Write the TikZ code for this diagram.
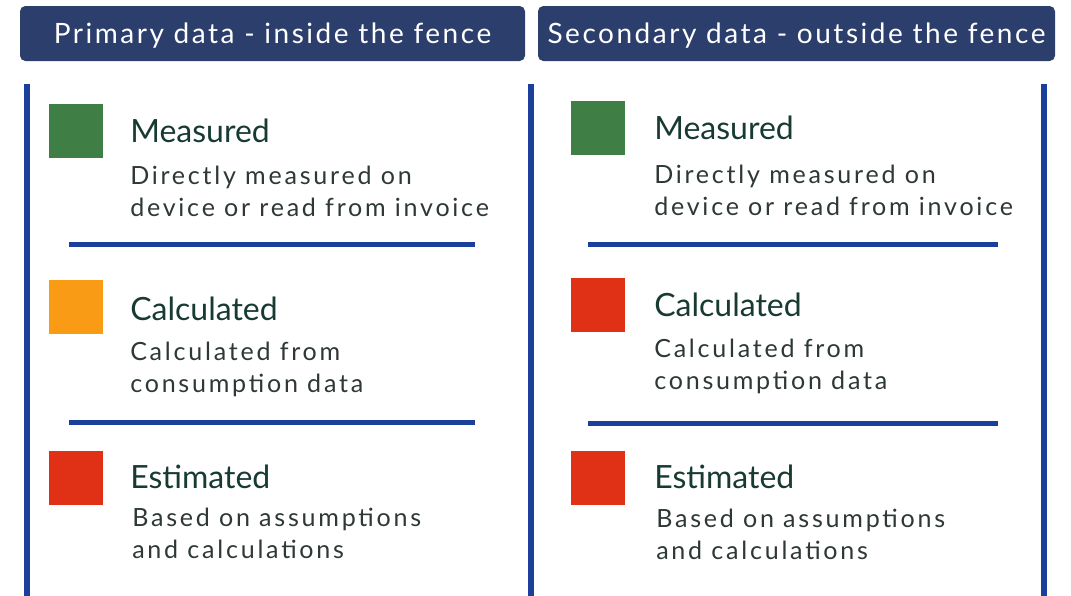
\documentclass[tikz,border=0pt]{standalone}
\usepackage{fontspec}
\setmainfont{Lato}
\newfontfamily\headfont[LetterSpace=9]{Lato}
\newfontfamily\descfont[LetterSpace=11]{Lato}
\usepackage{xcolor}
\usetikzlibrary{positioning}
\definecolor{navy}{HTML}{2C3E6C}
\definecolor{fenceblue}{HTML}{1A409C}
\definecolor{measgreen}{HTML}{3F7E45}
\definecolor{calcorange}{HTML}{F99B15}
\definecolor{estred}{HTML}{E03016}
\definecolor{inkgreen}{HTML}{173A32}
\definecolor{inkgrey}{HTML}{2E3835}

\begin{document}
\begin{tikzpicture}[
    x=0.75pt, y=-0.75pt,
    header/.style={rectangle, rounded corners=4pt, fill=navy, text=white, minimum height=41.25pt, inner sep=0pt, text height=15pt, text depth=0pt, font=\headfont\fontsize{21}{25}\selectfont},
    swatch/.style={rectangle, minimum size=40.5pt, inner sep=0pt},
    title/.style={anchor=base west, inner sep=0pt, text=inkgreen, font=\fontsize{24}{28}\selectfont},
    desc/.style={anchor=base west, inner sep=0pt, text=inkgrey, align=left, font=\descfont\fontsize{18.8}{23.6}\selectfont},
    fence/.style={draw=fenceblue, line width=4.5pt},
    sep/.style={draw=fenceblue, line width=3.75pt}
]
\useasboundingbox (0,0) rectangle (1071,596);

% Headers
\node[header, minimum width=378.75pt] (primary) at (272.5,33.5) {Primary data - inside the fence};
\node[header, minimum width=387.75pt] (secondary) at (796.5,33.5) {Secondary data - outside the fence};

% Fences
\foreach \x in {27,531,1044}
    \draw[fence] (\x,84) -- (\x,596);

% Left: primary data
\node[swatch, fill=measgreen] (pmeas) at (76,130.5) {};
\node[title] (pmeastitle) at (130,142) {Measured};
\node[desc] (pmeasdesc) at (130,216) {Directly measured on\\device or read from invoice};
\draw[sep] (69,244) -- (475,244);

\node[swatch, fill=calcorange] (pcalc) at (76,307) {};
\node[title] (pcalctitle) at (130,320) {Calculated};
\node[desc] (pcalcdesc) at (130,392) {Calculated from\\consumption data};
\draw[sep] (69,422) -- (475,422);

\node[swatch, fill=estred] (pest) at (76,478) {};
\node[title] (pesttitle) at (130,488) {Estimated};
\node[desc] (pestdesc) at (132,558) {Based on assumptions\\and calculations};

% Right: secondary data
\node[swatch, fill=measgreen] (smeas) at (598,127.5) {};
\node[title] (smeastitle) at (654,139) {Measured};
\node[desc] (smeasdesc) at (654,215) {Directly measured on\\device or read from invoice};
\draw[sep] (588,244) -- (998,244);

\node[swatch, fill=estred] (scalc) at (598,305) {};
\node[title] (scalctitle) at (654,316) {Calculated};
\node[desc] (scalcdesc) at (654,389) {Calculated from\\consumption data};
\draw[sep] (588,423) -- (998,423);

\node[swatch, fill=estred] (sest) at (598,478) {};
\node[title] (sesttitle) at (654,488) {Estimated};
\node[desc] (sestdesc) at (656,559) {Based on assumptions\\and calculations};

\end{tikzpicture}
\end{document}
